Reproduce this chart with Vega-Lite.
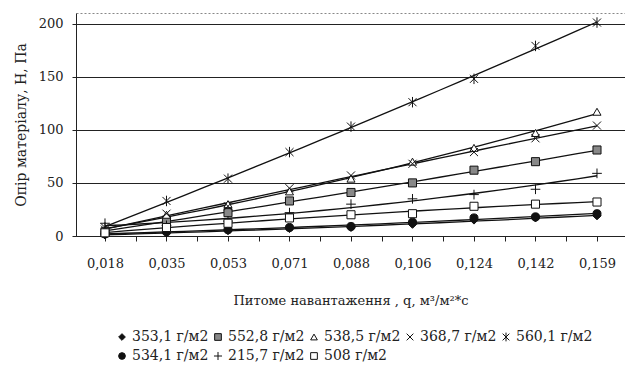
{
  "$schema": "https://vega.github.io/schema/vega-lite/v6.json",
  "width": 549,
  "height": 223,
  "autosize": {"type": "none"},
  "padding": {"left": 76, "top": 13, "right": 0, "bottom": 135},
  "background": "white",
  "config": {
    "view": {"stroke": "#888", "strokeDash": [2, 2], "strokeWidth": 1},
    "axis": {"labelFont": "DejaVu Serif", "titleFont": "DejaVu Serif", "labelColor": "#222", "titleColor": "#222", "domainColor": "#222", "tickColor": "#222", "titleFontWeight": "normal"}
  },
  "data": {"values": [
    {"s": "353,1 г/м2", "q": 0.0177, "v": 1}, {"s": "353,1 г/м2", "q": 0.0354, "v": 3}, {"s": "353,1 г/м2", "q": 0.0531, "v": 5}, {"s": "353,1 г/м2", "q": 0.0708, "v": 7}, {"s": "353,1 г/м2", "q": 0.0885, "v": 8}, {"s": "353,1 г/м2", "q": 0.1062, "v": 11}, {"s": "353,1 г/м2", "q": 0.1239, "v": 15}, {"s": "353,1 г/м2", "q": 0.1416, "v": 17}, {"s": "353,1 г/м2", "q": 0.1593, "v": 19},
    {"s": "552,8 г/м2", "q": 0.0177, "v": 4}, {"s": "552,8 г/м2", "q": 0.0354, "v": 15}, {"s": "552,8 г/м2", "q": 0.0531, "v": 22}, {"s": "552,8 г/м2", "q": 0.0708, "v": 33}, {"s": "552,8 г/м2", "q": 0.0885, "v": 41}, {"s": "552,8 г/м2", "q": 0.1062, "v": 50}, {"s": "552,8 г/м2", "q": 0.1239, "v": 62}, {"s": "552,8 г/м2", "q": 0.1416, "v": 70}, {"s": "552,8 г/м2", "q": 0.1593, "v": 81},
    {"s": "538,5 г/м2", "q": 0.0177, "v": 5}, {"s": "538,5 г/м2", "q": 0.0354, "v": 20}, {"s": "538,5 г/м2", "q": 0.0531, "v": 30}, {"s": "538,5 г/м2", "q": 0.0708, "v": 42}, {"s": "538,5 г/м2", "q": 0.0885, "v": 54}, {"s": "538,5 г/м2", "q": 0.1062, "v": 70}, {"s": "538,5 г/м2", "q": 0.1239, "v": 83}, {"s": "538,5 г/м2", "q": 0.1416, "v": 97}, {"s": "538,5 г/м2", "q": 0.1593, "v": 117},
    {"s": "368,7 г/м2", "q": 0.0177, "v": 6}, {"s": "368,7 г/м2", "q": 0.0354, "v": 21}, {"s": "368,7 г/м2", "q": 0.0531, "v": 28}, {"s": "368,7 г/м2", "q": 0.0708, "v": 45}, {"s": "368,7 г/м2", "q": 0.0885, "v": 57}, {"s": "368,7 г/м2", "q": 0.1062, "v": 68}, {"s": "368,7 г/м2", "q": 0.1239, "v": 79}, {"s": "368,7 г/м2", "q": 0.1416, "v": 92}, {"s": "368,7 г/м2", "q": 0.1593, "v": 104},
    {"s": "560,1 г/м2", "q": 0.0177, "v": 8}, {"s": "560,1 г/м2", "q": 0.0354, "v": 33}, {"s": "560,1 г/м2", "q": 0.0531, "v": 54}, {"s": "560,1 г/м2", "q": 0.0708, "v": 79}, {"s": "560,1 г/м2", "q": 0.0885, "v": 103}, {"s": "560,1 г/м2", "q": 0.1062, "v": 126}, {"s": "560,1 г/м2", "q": 0.1239, "v": 148}, {"s": "560,1 г/м2", "q": 0.1416, "v": 179}, {"s": "560,1 г/м2", "q": 0.1593, "v": 201},
    {"s": "534,1 г/м2", "q": 0.0177, "v": 2}, {"s": "534,1 г/м2", "q": 0.0354, "v": 4}, {"s": "534,1 г/м2", "q": 0.0531, "v": 6}, {"s": "534,1 г/м2", "q": 0.0708, "v": 8}, {"s": "534,1 г/м2", "q": 0.0885, "v": 9}, {"s": "534,1 г/м2", "q": 0.1062, "v": 13}, {"s": "534,1 г/м2", "q": 0.1239, "v": 17}, {"s": "534,1 г/м2", "q": 0.1416, "v": 18}, {"s": "534,1 г/м2", "q": 0.1593, "v": 21},
    {"s": "215,7 г/м2", "q": 0.0177, "v": 12}, {"s": "215,7 г/м2", "q": 0.0354, "v": 10}, {"s": "215,7 г/м2", "q": 0.0531, "v": 14}, {"s": "215,7 г/м2", "q": 0.0708, "v": 22}, {"s": "215,7 г/м2", "q": 0.0885, "v": 30}, {"s": "215,7 г/м2", "q": 0.1062, "v": 35}, {"s": "215,7 г/м2", "q": 0.1239, "v": 39}, {"s": "215,7 г/м2", "q": 0.1416, "v": 44}, {"s": "215,7 г/м2", "q": 0.1593, "v": 59},
    {"s": "508 г/м2", "q": 0.0177, "v": 3}, {"s": "508 г/м2", "q": 0.0354, "v": 8}, {"s": "508 г/м2", "q": 0.0531, "v": 12}, {"s": "508 г/м2", "q": 0.0708, "v": 17}, {"s": "508 г/м2", "q": 0.0885, "v": 20}, {"s": "508 г/м2", "q": 0.1062, "v": 21}, {"s": "508 г/м2", "q": 0.1239, "v": 28}, {"s": "508 г/м2", "q": 0.1416, "v": 30}, {"s": "508 г/м2", "q": 0.1593, "v": 32}
  ]},
  "encoding": {
    "x": {
      "field": "q", "type": "quantitative",
      "scale": {"domain": [0.009354, 0.16736], "nice": false, "zero": false},
      "axis": {
        "values": [0.0177, 0.02655, 0.0354, 0.04425, 0.0531, 0.06195, 0.0708, 0.07965, 0.0885, 0.09735, 0.1062, 0.11505, 0.1239, 0.13275, 0.1416, 0.15045, 0.1593],
        "labelExpr": "round(datum.value / 0.00885) % 2 == 0 ? replace(format(datum.value - 0.00003, '.3f'), '.', ',') : ''",
        "grid": false, "tickSize": 5, "labelPadding": 16, "labelFontSize": 13, "labelFlush": false, "labelOverlap": false,
        "title": "Питоме навантаження , q, м³/м²*с", "titleFontSize": 13, "titlePadding": 24
      }
    },
    "y": {
      "field": "v", "type": "quantitative",
      "scale": {"domain": [0, 210], "nice": false},
      "axis": {
        "values": [0, 50, 100, 150, 200], "grid": true, "gridColor": "#222", "gridWidth": 1,
        "tickSize": 4, "labelPadding": 9, "labelFontSize": 13,
        "title": "Опір матеріалу, Н, Па", "titleFontSize": 14, "titlePadding": 10
      }
    }
  },
  "layer": [
    {
      "transform": [{"regression": "v", "on": "q", "groupby": ["s"], "method": "poly", "order": 2}],
      "mark": {"type": "line", "color": "#111", "strokeWidth": 1.3},
      "encoding": {"detail": {"field": "s"}}
    },
    {
      "mark": {"type": "point", "filled": true, "strokeWidth": 1, "opacity": 1, "size": 65},
      "encoding": {
        "stroke": {"value": "#111"},
        "shape": {
          "field": "s", "type": "nominal",
          "scale": {
            "domain": ["353,1 г/м2", "552,8 г/м2", "538,5 г/м2", "368,7 г/м2", "560,1 г/м2", "534,1 г/м2", "215,7 г/м2", "508 г/м2"],
            "range": ["diamond", "square", "triangle-up", "M-1,-1L1,1M-1,1L1,-1", "M-1,-1L1,1M-1,1L1,-1M0,-1.3V1.3", "circle", "M-1.2,0H1.2M0,-1.2V1.2", "square"]
          },
          "legend": {
            "orient": "none", "legendX": 39, "legendY": 317, "direction": "horizontal", "columns": 5,
            "title": null, "labelFont": "DejaVu Serif", "labelFontSize": 14, "labelColor": "#222",
            "symbolSize": 45, "symbolStrokeWidth": 1,
            "columnPadding": 2, "rowPadding": 5, "labelOffset": 3, "padding": 0,
            "encode": {"symbols": {"stroke": {"value": "#111"}, "strokeWidth": {"value": 1}}}
          }
        },
        "fill": {
          "field": "s", "type": "nominal",
          "scale": {
            "domain": ["353,1 г/м2", "552,8 г/м2", "538,5 г/м2", "368,7 г/м2", "560,1 г/м2", "534,1 г/м2", "215,7 г/м2", "508 г/м2"],
            "range": ["#111", "#888", "white", "transparent", "transparent", "#111", "transparent", "white"]
          },
          "legend": null
        }
      }
    }
  ]
}
